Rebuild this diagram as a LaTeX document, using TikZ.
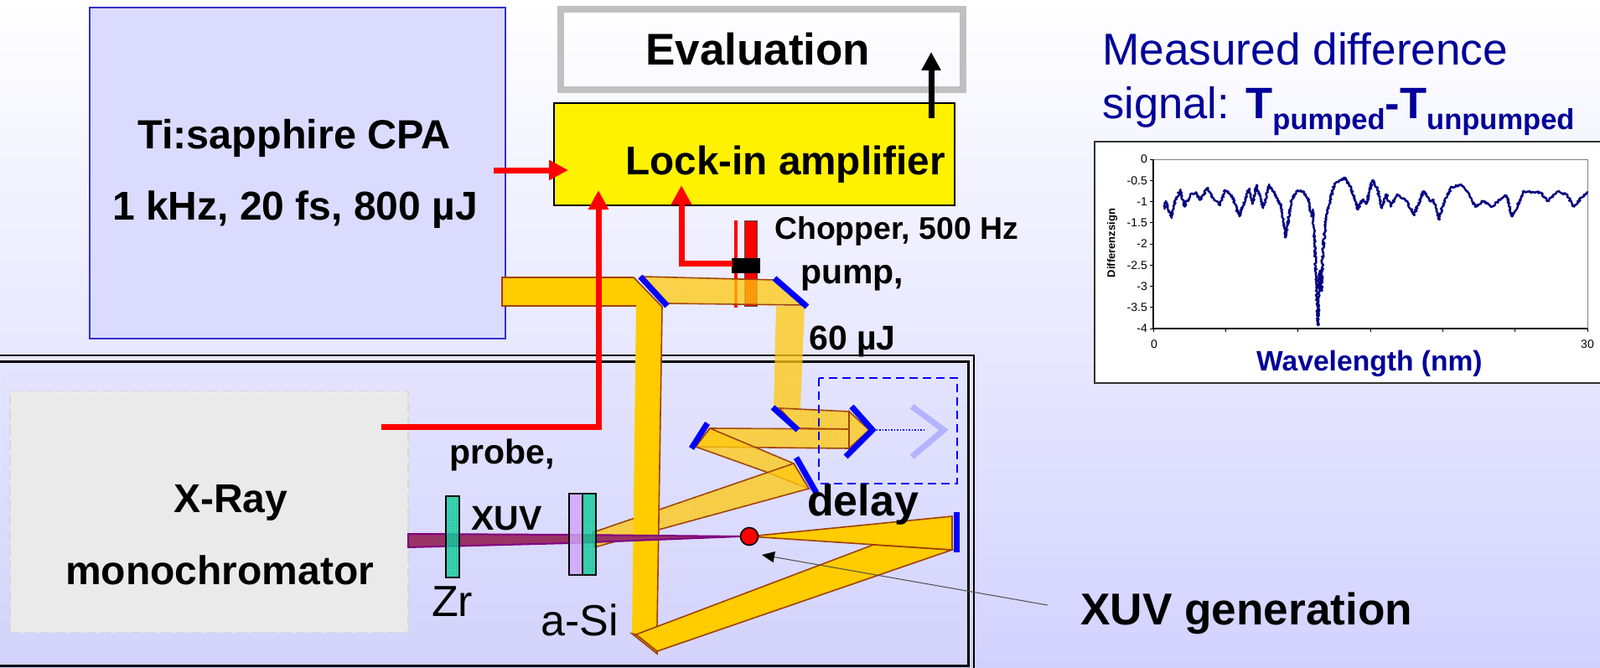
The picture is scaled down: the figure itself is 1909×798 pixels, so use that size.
\documentclass[tikz,border=0pt]{standalone}
\usepackage{fontspec}
\setmainfont{Liberation Sans}
\usepackage{tikz}
\usetikzlibrary{arrows.meta, decorations.pathmorphing, patterns}
\definecolor{navyblue}{RGB}{0, 0, 153}
\definecolor{curveblue}{RGB}{0, 0, 128}
\definecolor{beamorange}{RGB}{255, 204, 0}
\definecolor{beamedge}{RGB}{160, 64, 0}
\definecolor{pumpfill}{RGB}{255, 198, 0}
\definecolor{filterteal}{RGB}{0, 200, 150}
\definecolor{filterlilac}{RGB}{204, 160, 250}
\definecolor{xuvpurple}{RGB}{128, 0, 128}
\definecolor{xuvfill}{RGB}{153, 51, 102}
\tikzset{
  txt/.style={font=\fontsize{#1}{#1}\selectfont\bfseries, inner sep=0pt, anchor=base west},
  thintxt/.style={font=\fontsize{#1}{#1}\selectfont, inner sep=0pt, anchor=base west},
  mirror/.style={draw=blue, line width=7pt},
  redline/.style={draw=red, line width=7pt, -{Triangle[length=23pt,width=23pt]}},
  pumpbeam/.style={fill=pumpfill, fill opacity=0.75, draw=beamedge, line width=1.6pt,
    postaction={pattern=dots, pattern color=white}},
  mainbeam/.style={fill=beamorange, draw=beamedge, line width=1.6pt},
  filterbox/.style={draw=black, line width=1.6pt, fill opacity=0.8,
    postaction={pattern=dots, pattern color=white}}
}

\begin{document}
\begin{tikzpicture}[x=1pt, y=-1pt]
  \useasboundingbox (0,0) rectangle (1909,797);
  \shade[top color=white, bottom color={rgb,255:red,210;green,210;blue,255}] (0,0) rectangle (1909,798);

  %Boxes
  \node[draw={rgb,255:red,51;green,51;blue,204}, line width=2pt, fill={rgb,255:red,219;green,219;blue,255}, minimum width=496pt, minimum height=395pt, inner sep=0pt] (laser) at (355,206.5) {};
  \node[draw={rgb,255:red,192;green,192;blue,192}, line width=8pt, minimum width=480pt, minimum height=96pt, inner sep=0pt] (eval) at (909,59) {};
  \node[draw=black, line width=2pt, fill=yellow, minimum width=478pt, minimum height=122pt, inner sep=0pt] (lockin) at (900,184) {};

  %Vacuum chamber
  \draw[line width=2pt] (-3,424) rectangle (1162,802);
  \shade[top color={rgb,255:red,228;green,228;blue,255}, bottom color={rgb,255:red,211;green,211;blue,252}] (1,431) rectangle (1155,794);
  \draw[line width=3pt] (-3,431) rectangle (1155,794);
  \node[draw={rgb,255:red,215;green,215;blue,215}, dash pattern=on 12pt off 6pt, line width=1.5pt, fill={rgb,255:red,234;green,234;blue,234}, minimum width=475pt, minimum height=288pt, inner sep=0pt] (xray) at (249.5,610.5) {};

  %Chopper
  \draw[fill=red, draw=black!70, line width=1pt] (888,263) rectangle (903,365);
  \draw[red, line width=4pt] (877.5,263) -- (877.5,367);

  %Pump arm
  \path[pumpbeam] (766,330) -- (924,334) -- (960,364) -- (797,362) -- cycle;
  \path[fill=pumpfill, fill opacity=0.75, postaction={pattern=dots, pattern color=white}] (926,365) -- (960,365) -- (955,487) -- (923,487) -- cycle;
  \path[pumpbeam] (930,487) -- (1013,491) -- (1013,512) -- (952,511) -- cycle;
  \path[pumpbeam] (847,511) -- (1013,512) -- (1013,535) -- (830,533) -- cycle;
  \path[pumpbeam] (1013,491) -- (1037,513) -- (1013,535) -- cycle;
  \path[pumpbeam] (847,511) -- (947,553) -- (965,583) -- (914,563) -- (830,533) -- cycle;
  \path[pumpbeam] (947,553) -- (965,583) -- (709,653) -- (708,635) -- cycle;

  %Main beam
  \fill[beamorange] (599,331) -- (756,331) -- (790,366) -- (784,748) -- (759,757) -- (754,756) -- (759,365) -- (599,365) -- cycle;
  \draw[beamedge, line width=1.6pt] (759,365) -- (599,365) -- (599,331) -- (756,331) -- (790,366) -- (784,748);
  \path[mainbeam] (754,756) -- (759,757) -- (784,777) -- (784,780) -- cycle;
  \path[mainbeam] (759,757) -- (1042,650) -- (1136,656) -- (784,777) -- cycle;
  \path[mainbeam] (894,640) -- (1136,616) -- (1136,656) -- cycle;

  %XUV beam and filters
  \draw[fill=xuvfill, draw=xuvpurple, line width=2pt] (487,637) -- (680,638) -- (884,640) -- (680,648) -- (487,653) -- cycle;
  \path[filterbox, fill=filterteal] (532,592) rectangle (548,689);
  \path[filterbox, fill=filterlilac] (679,589) rectangle (695,686);
  \path[filterbox, fill=filterteal] (695,589) rectangle (711,686);
  \node[draw=black, line width=1.6pt, fill=red, circle, minimum size=21pt, inner sep=0pt] (focus) at (894,640) {};

  %Mirrors
  \draw[mirror] (764,330) -- (796,365);
  \draw[mirror] (924,332) -- (963,366);
  \draw[mirror] (922,486) -- (952,513);
  \draw[mirror] (844,505) -- (825,535);
  \draw[mirror] (950,546) -- (974,588);
  \draw[mirror] (1141,611) -- (1141,659);
  \draw[mirror] (1016,485) -- (1041,513) -- (1009,545);

  %Delay stage
  \draw[blue, dash pattern=on 10pt off 6pt, line width=2pt] (977,451) rectangle (1142,577);
  \draw[blue, dotted, line width=1.5pt] (1042,513) -- (1103,513);
  \draw[draw={rgb,255:red,179;green,179;blue,255}, line width=7pt] (1088,485) -- (1126,513) -- (1088,545);

  %Signals
  \fill[black] (873,308) rectangle (907,326);
  \coordinate (laserout) at (589,203);
  \coordinate (lockinleft) at (678,203);
  \coordinate (probeout) at (455,509);
  \coordinate (lockinprobe) at (714,227);
  \coordinate (chopout) at (874,314);
  \coordinate (lockinref) at (813,221);
  \coordinate (lockinout) at (1111,141);
  \coordinate (evalin) at (1111,62);
  \coordinate (xuvlabel) at (1250,722);
  \coordinate (focusmark) at (909,662);
  \draw[redline] (laserout) -- (lockinleft);
  \draw[redline] (probeout) -| (lockinprobe);
  \draw[redline] (chopout) -| (lockinref);
  \draw[black, line width=7pt, -{Triangle[length=22pt,width=22pt]}] (lockinout) -- (evalin);
  \draw[black!70, line width=1pt, -{Triangle[length=15pt,width=13pt,fill=black,color=black]}] (xuvlabel) -- (focusmark);

  %Labels
  \node[txt=53] (evallabel) at (770,78) {Evaluation};
  \node[txt=47.7] (lockinlabel) at (746,208) {Lock-in amplifier};
  \node[txt=48.6] (laserlabel) at (164,177) {Ti:sapphire CPA};
  \node[txt=48] (laserdata) at (134,262.5) {1 kHz, 20 fs, 800 µJ};
  \node[txt=48] (xraylabel) at (207,611) {X-Ray};
  \node[txt=48] (monolabel) at (78,697) {monochromator};
  \node[txt=37.4] (choplabel) at (924,285) {Chopper, 500 Hz};
  \node[txt=41] (pumplabel) at (955,338) {pump,};
  \node[txt=41] (pumpdata) at (965,417) {60 µJ};
  \node[txt=41] (probelabel) at (536,553) {probe,};
  \node[txt=41] (xuvtext) at (562,632) {XUV};
  \node[txt=52] (delaylabel) at (963,615) {delay};
  \node[thintxt=52] (zrlabel) at (515,735) {Zr};
  \node[thintxt=52] (silabel) at (645,758) {a-Si};
  \node[txt=53.2] (xuvgen) at (1289,745) {XUV generation};

  %Signal text
  \node[thintxt=53.2, text=navyblue] (signalone) at (1315,78) {Measured difference};
  \node[thintxt=52.5, text=navyblue] (signaltwo) at (1315,142) {signal: \textbf{T\raisebox{-13pt}{\fontsize{34.5}{34.5}\selectfont pumped}-T\raisebox{-13pt}{\fontsize{34.5}{34.5}\selectfont unpumped}}};

  %Plot
  \draw[fill=white, draw=black!80, line width=2pt] (1306,169) rectangle (1915,457);
  \draw[black!50, line width=1pt] (1376,190) -- (1894,190) -- (1894,392);
  \draw[black, line width=1.2pt] (1376,190) -- (1376,392) -- (1894,392);
  \foreach \i/\lab in {0/0, 1/-0.5, 2/-1, 3/-1.5, 4/-2, 5/-2.5, 6/-3, 7/-3.5, 8/-4} {
    \draw[line width=1pt] (1372,190+\i*25.25) -- (1376,190+\i*25.25);
    \node[font=\fontsize{14}{14}\selectfont, inner sep=0pt, anchor=east] (ylab\i) at (1369,190+\i*25.25) {\lab};
  }
  \foreach \i in {0,...,6}
    \draw[line width=1pt] (1376+\i*86.33,392) -- (1376+\i*86.33,396);
  \node[font=\fontsize{14}{14}\selectfont, inner sep=0pt] (xlabzero) at (1377,411) {0};
  \node[font=\fontsize{14}{14}\selectfont, inner sep=0pt] (xlabend) at (1894,411) {30};
  \node[font=\fontsize{13}{13}\selectfont\bfseries, inner sep=0pt, rotate=90] (ylabel) at (1327,290) {Differenzsign};
  \node[txt=33.6, text=navyblue] (xlabel) at (1499,442) {Wavelength (nm)};
  \begin{scope}[shift={(1290,150)}, x=0.3948pt, y=-0.3333pt]
    \draw[curveblue, line width=2.4pt, line join=round, decorate, decoration={random steps, segment length=1.2pt, amplitude=1.3pt}]
      (252,300) -- (255,270) -- (262,290) -- (273,330) -- (285,265) -- (300,228) -- (312,290) -- (330,245) -- (345,240) -- (360,265)
      -- (382,222) -- (400,260) -- (420,285) -- (435,230) -- (455,250) -- (478,325) -- (495,265) -- (508,225) -- (518,280) -- (530,212)
      -- (550,295) -- (568,210) -- (590,255) -- (605,290) -- (618,400) -- (635,270) -- (650,235) -- (670,235) -- (690,275) -- (695,325)
      -- (700,300) -- (706,430) -- (710,560) -- (716,715) -- (720,520) -- (726,590) -- (730,450) -- (736,380) -- (740,330) -- (750,280)
      -- (765,210) -- (795,185) -- (815,220) -- (835,300) -- (850,265) -- (862,280) -- (880,195) -- (895,225) -- (908,295) -- (922,245)
      -- (935,290) -- (955,245) -- (985,270) -- (1005,320) -- (1035,235) -- (1055,270) -- (1065,265) -- (1080,335) -- (1100,260) -- (1120,220)
      -- (1148,210) -- (1170,240) -- (1190,290) -- (1215,270) -- (1240,290) -- (1260,270) -- (1285,250) -- (1303,325) -- (1325,270) -- (1335,235)
      -- (1390,240) -- (1410,270) -- (1440,235) -- (1465,245) -- (1490,290) -- (1515,255) -- (1529,235);
  \end{scope}
\end{tikzpicture}
\end{document}
